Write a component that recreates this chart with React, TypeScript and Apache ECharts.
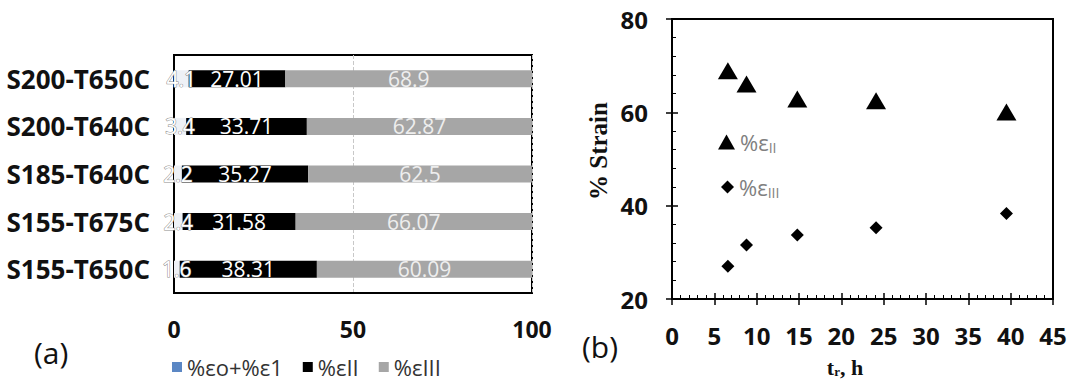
import React, { useEffect, useRef } from 'react';
import * as echarts from 'echarts';

// Specimens (top to bottom in the stacked bar panel)
const specimens = ['S200-T650C', 'S200-T640C', 'S185-T640C', 'S155-T675C', 'S155-T650C'];
// Strain fractions per creep stage, in %
const strainPrimary = [4.1, 3.4, 2.2, 2.4, 1.6];
const strainSecondary = [27.01, 33.71, 35.27, 31.58, 38.31];
const strainTertiary = [68.9, 62.87, 62.5, 66.07, 60.09];
// Rupture time of each specimen, h
const ruptureTime = [6.6, 14.8, 24.1, 8.8, 39.5];

const barAxisTicks = [0, 50, 100];
const strainAxisRange = [20, 80];
const timeAxisRange = [0, 45];

const SANS = 'Open Sans';
const SERIF = 'Liberation Serif';

export default function App() {
  const ref = useRef<HTMLDivElement>(null);

  useEffect(() => {
    if (!ref.current) return;
    const chart = echarts.init(ref.current, undefined, { renderer: 'svg' });

    const triangles = ruptureTime.map((t, i) => [t, strainTertiary[i]]);
    const diamonds = ruptureTime.map((t, i) => [t, strainSecondary[i]]);

    const barLabel = (color: string, extra: any = {}) => ({
      show: true,
      position: 'inside',
      color,
      fontSize: 21,
      fontFamily: SANS,
      formatter: (p: any) => String(p.value),
      ...extra,
    });

    chart.setOption({
      animation: false,
      backgroundColor: '#ffffff',
      grid: [
        { left: 174, top: 55, width: 358, height: 238, show: true, borderColor: '#000', borderWidth: 2 },
        { left: 672, top: 19, width: 381, height: 280, show: true, borderColor: '#000', borderWidth: 2 },
      ],
      xAxis: [
        {
          type: 'value', gridIndex: 0,
          min: barAxisTicks[0], max: barAxisTicks[barAxisTicks.length - 1], interval: 50,
          axisLine: { show: true, lineStyle: { color: '#000', width: 2 } },
          axisTick: { show: false },
          splitLine: { show: true, lineStyle: { color: '#c8c8c8', type: 'dashed', width: 1 } },
          axisLabel: { fontSize: 23, fontWeight: 'bold', fontFamily: SANS, color: '#111', margin: 24 },
        },
        {
          type: 'value', gridIndex: 1,
          min: timeAxisRange[0], max: timeAxisRange[1], interval: 5,
          axisLine: { show: true, lineStyle: { color: '#000', width: 2 } },
          axisTick: { show: true, inside: false, length: 6, lineStyle: { color: '#000', width: 1.5 } },
          splitLine: { show: false },
          axisLabel: { fontSize: 24, fontWeight: 'bold', fontFamily: SANS, color: '#111', margin: 24 },
        },
        {
          type: 'value', gridIndex: 1, position: 'bottom',
          min: timeAxisRange[0], max: timeAxisRange[1], interval: 5,
          axisLine: { show: false },
          axisTick: { show: true, inside: true, length: 6, lineStyle: { color: '#000', width: 1.5 } },
          minorTick: { show: true, splitNumber: 5, length: 4, lineStyle: { color: '#000', width: 1 } },
          splitLine: { show: false },
          axisLabel: { show: false },
        },
      ],
      yAxis: [
        {
          type: 'category', gridIndex: 0, data: specimens, inverse: true,
          axisLine: { show: true, lineStyle: { color: '#000', width: 2 } },
          axisTick: { show: false },
          axisLabel: { fontSize: 26, fontWeight: 'bold', fontFamily: SANS, color: '#111', margin: 24 },
        },
        {
          type: 'value', gridIndex: 1,
          min: strainAxisRange[0], max: strainAxisRange[1], interval: 20,
          axisLine: { show: true, lineStyle: { color: '#000', width: 2 } },
          axisTick: { show: true, inside: false, length: 6, lineStyle: { color: '#000', width: 1.5 } },
          splitLine: { show: false },
          axisLabel: { fontSize: 24, fontWeight: 'bold', fontFamily: SANS, color: '#111', margin: 24 },
        },
        {
          type: 'value', gridIndex: 1, position: 'left',
          min: strainAxisRange[0], max: strainAxisRange[1], interval: 20,
          axisLine: { show: false },
          axisTick: { show: true, inside: true, length: 6, lineStyle: { color: '#000', width: 1.5 } },
          minorTick: { show: true, splitNumber: 5, length: 4, lineStyle: { color: '#000', width: 1 } },
          splitLine: { show: false },
          axisLabel: { show: false },
        },
      ],
      legend: [
        {
          left: 172, top: 354, itemWidth: 10, itemHeight: 10, itemGap: 20, padding: 0,
          icon: 'rect',
          textStyle: { fontSize: 22, lineHeight: 26, fontFamily: SANS, color: '#333' },
          data: [
            { name: '%εo+%ε1', itemStyle: { color: '#5b87c4' } },
            { name: '%εII' },
            { name: '%εIII' },
          ],
        },
        {
          left: 713, top: 126, itemWidth: 17, itemHeight: 15, orient: 'vertical',
          textStyle: { fontSize: 22, fontFamily: SANS, color: '#808080', rich: { s: { fontSize: 14, fontFamily: SANS, color: '#808080', padding: [10, 0, 0, 0] } } },
          formatter: () => '%ε{s|II}',
          data: [{ name: 'εII vs tr', icon: 'triangle', itemStyle: { color: '#000', opacity: 1 } }],
        },
        {
          left: 716, top: 171, itemWidth: 13, itemHeight: 13, orient: 'vertical',
          textStyle: { fontSize: 22, fontFamily: SANS, color: '#808080', rich: { s: { fontSize: 14, fontFamily: SANS, color: '#808080', padding: [10, 0, 0, 0] } } },
          formatter: () => '%ε{s|III}',
          data: [{ name: 'εIII vs tr', icon: 'diamond', itemStyle: { color: '#000', opacity: 1 } }],
        },
      ],
      series: [
        {
          name: '%εo+%ε1', type: 'bar', stack: 'total', xAxisIndex: 0, yAxisIndex: 0,
          barWidth: 17, data: strainPrimary,
          itemStyle: { color: '#eef1f6' },
          label: barLabel('#ffffff', { textBorderColor: '#8a8a8a', textBorderWidth: 1 }),
        },
        {
          name: '%εII', type: 'bar', stack: 'total', xAxisIndex: 0, yAxisIndex: 0,
          barWidth: 17, data: strainSecondary,
          itemStyle: { color: '#000000' },
          label: barLabel('#ffffff'),
        },
        {
          name: '%εIII', type: 'bar', stack: 'total', xAxisIndex: 0, yAxisIndex: 0,
          barWidth: 17, data: strainTertiary,
          itemStyle: { color: '#a6a6a6' },
          label: barLabel('#eeeeee'),
        },
        {
          name: 'εII vs tr', type: 'scatter', xAxisIndex: 1, yAxisIndex: 1,
          symbol: 'triangle', symbolSize: [20, 17], data: triangles,
          itemStyle: { color: '#000000', opacity: 1 },
        },
        {
          name: 'εIII vs tr', type: 'scatter', xAxisIndex: 1, yAxisIndex: 1,
          symbol: 'diamond', symbolSize: 13, data: diamonds,
          itemStyle: { color: '#000000', opacity: 1 },
        },
      ],
      graphic: [
        {
          type: 'text', x: 34, y: 352,
          style: { text: '(a)', fontSize: 30, fontFamily: SANS, fill: '#111', align: 'left', verticalAlign: 'middle' },
        },
        {
          type: 'text', x: 582, y: 346,
          style: { text: '(b)', fontSize: 30, fontFamily: SANS, fill: '#111', align: 'left', verticalAlign: 'middle' },
        },
        {
          type: 'text', x: 598, y: 151, rotation: Math.PI / 2,
          style: { text: '% Strain', fontSize: 25, fontWeight: 'bold', fontFamily: SERIF, fill: '#111', align: 'center', verticalAlign: 'middle' },
        },
        {
          type: 'text', x: 845, y: 367,
          style: {
            text: '{t|t}{r|r}{t|, h}',
            align: 'center', verticalAlign: 'middle',
            rich: {
              t: { fontSize: 22, fontWeight: 'bold', fontFamily: SERIF, fill: '#111', color: '#111' },
              r: { fontSize: 13, fontWeight: 'bold', fontFamily: SERIF, fill: '#111', color: '#111', padding: [9, 0, 0, 0] },
            },
          },
        },
      ],
    });

    return () => chart.dispose();
  }, []);

  return (
    <div
      ref={ref}
      style={{ position: 'fixed', left: 0, top: 0, width: 1072, height: 382, background: '#fff' }}
    />
  );
}
